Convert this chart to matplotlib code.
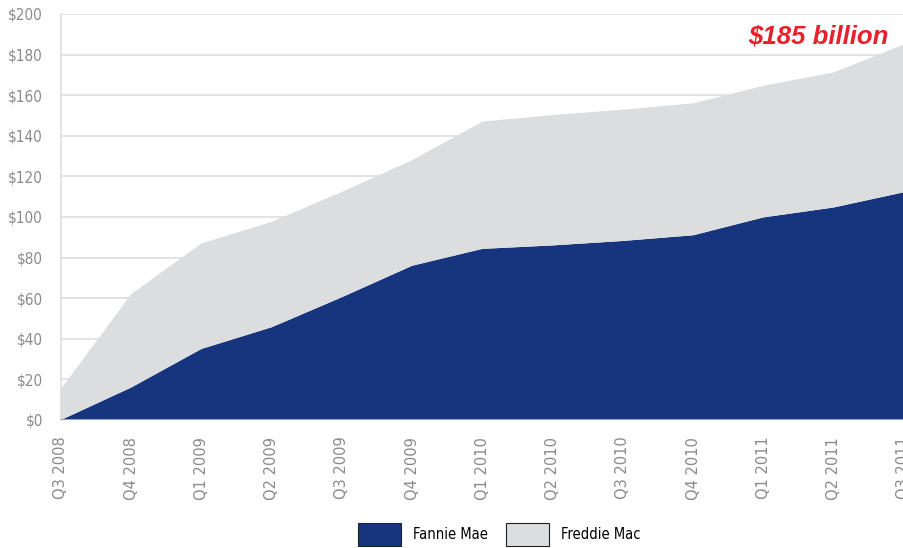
import matplotlib
import matplotlib.pyplot as plt
from matplotlib.patches import Patch

matplotlib.use('Agg')

quarters = ['Q3 2008', 'Q4 2008', 'Q1 2009', 'Q2 2009', 'Q3 2009', 'Q4 2009',
            'Q1 2010', 'Q2 2010', 'Q3 2010', 'Q4 2010', 'Q1 2011', 'Q2 2011', 'Q3 2011']
fannie = [0, 16, 35, 45.7, 60.5, 76, 84.3, 86, 88.2, 91, 99.8, 104.7, 112.2]
freddie = [15.3, 46, 52, 51.9, 51.9, 52, 62.7, 64.2, 64.7, 65, 64.8, 66.5, 72.8]
y_ticks = [0, 20, 40, 60, 80, 100, 120, 140, 160, 180, 200]

blue = '#17357f'
gray = '#dcdddf'
tick_gray = '#8a8a8a'
plt.rcParams['font.family'] = ['DejaVu Sans']
plt.rcParams['font.stretch'] = 'condensed'

fig = plt.figure(figsize=(9.04, 5.48), dpi=100)
ax = fig.add_axes([61 / 904, 1 - 420 / 548, 1 - 61 / 904, 406 / 548])

x = list(range(len(quarters)))
ax.stackplot(x, fannie, freddie, colors=[blue, gray], linewidth=0, zorder=2)

ax.set_xlim(0, len(quarters) - 1)
ax.set_ylim(0, 200)
ax.set_yticks(y_ticks)
ax.set_yticklabels(['$' + str(v) for v in y_ticks])
ax.set_xticks(x)
ax.set_xticklabels(quarters, rotation=90, va='top', fontstretch='normal')
ax.tick_params(axis='y', length=0, pad=13, labelsize=11, labelcolor=tick_gray)
ax.tick_params(axis='x', length=0, pad=12, labelsize=10.5, labelcolor=tick_gray)
ax.grid(axis='y', color='#dedede', linewidth=1.2, zorder=1)
ax.set_axisbelow(True)
for s in ['top', 'right', 'bottom']:
    ax.spines[s].set_visible(False)
ax.spines['left'].set_color('#dedede')
ax.spines['left'].set_linewidth(1.2)
ax.axhline(0, color='#8fa0c8', linewidth=1.5, zorder=3)

ax.text(11.78, 189, '$185 billion', color='#e8202a', fontsize=18.5, fontweight='bold',
        fontstyle='italic', ha='right', va='center', stretch='normal',
        family=['Liberation Sans', 'DejaVu Sans'])

handles = [Patch(facecolor=blue, edgecolor='#222222', linewidth=0.8),
           Patch(facecolor=gray, edgecolor='#222222', linewidth=0.8)]
fig.legend(handles, ['Fannie Mae', 'Freddie Mac'], loc='lower center',
           bbox_to_anchor=(0.552, -0.02), ncol=2, frameon=False, fontsize=10.5,
           handlelength=3.0, handleheight=2.0, columnspacing=1.2, handletextpad=0.8)

fig.savefig('out.png', dpi=100)
